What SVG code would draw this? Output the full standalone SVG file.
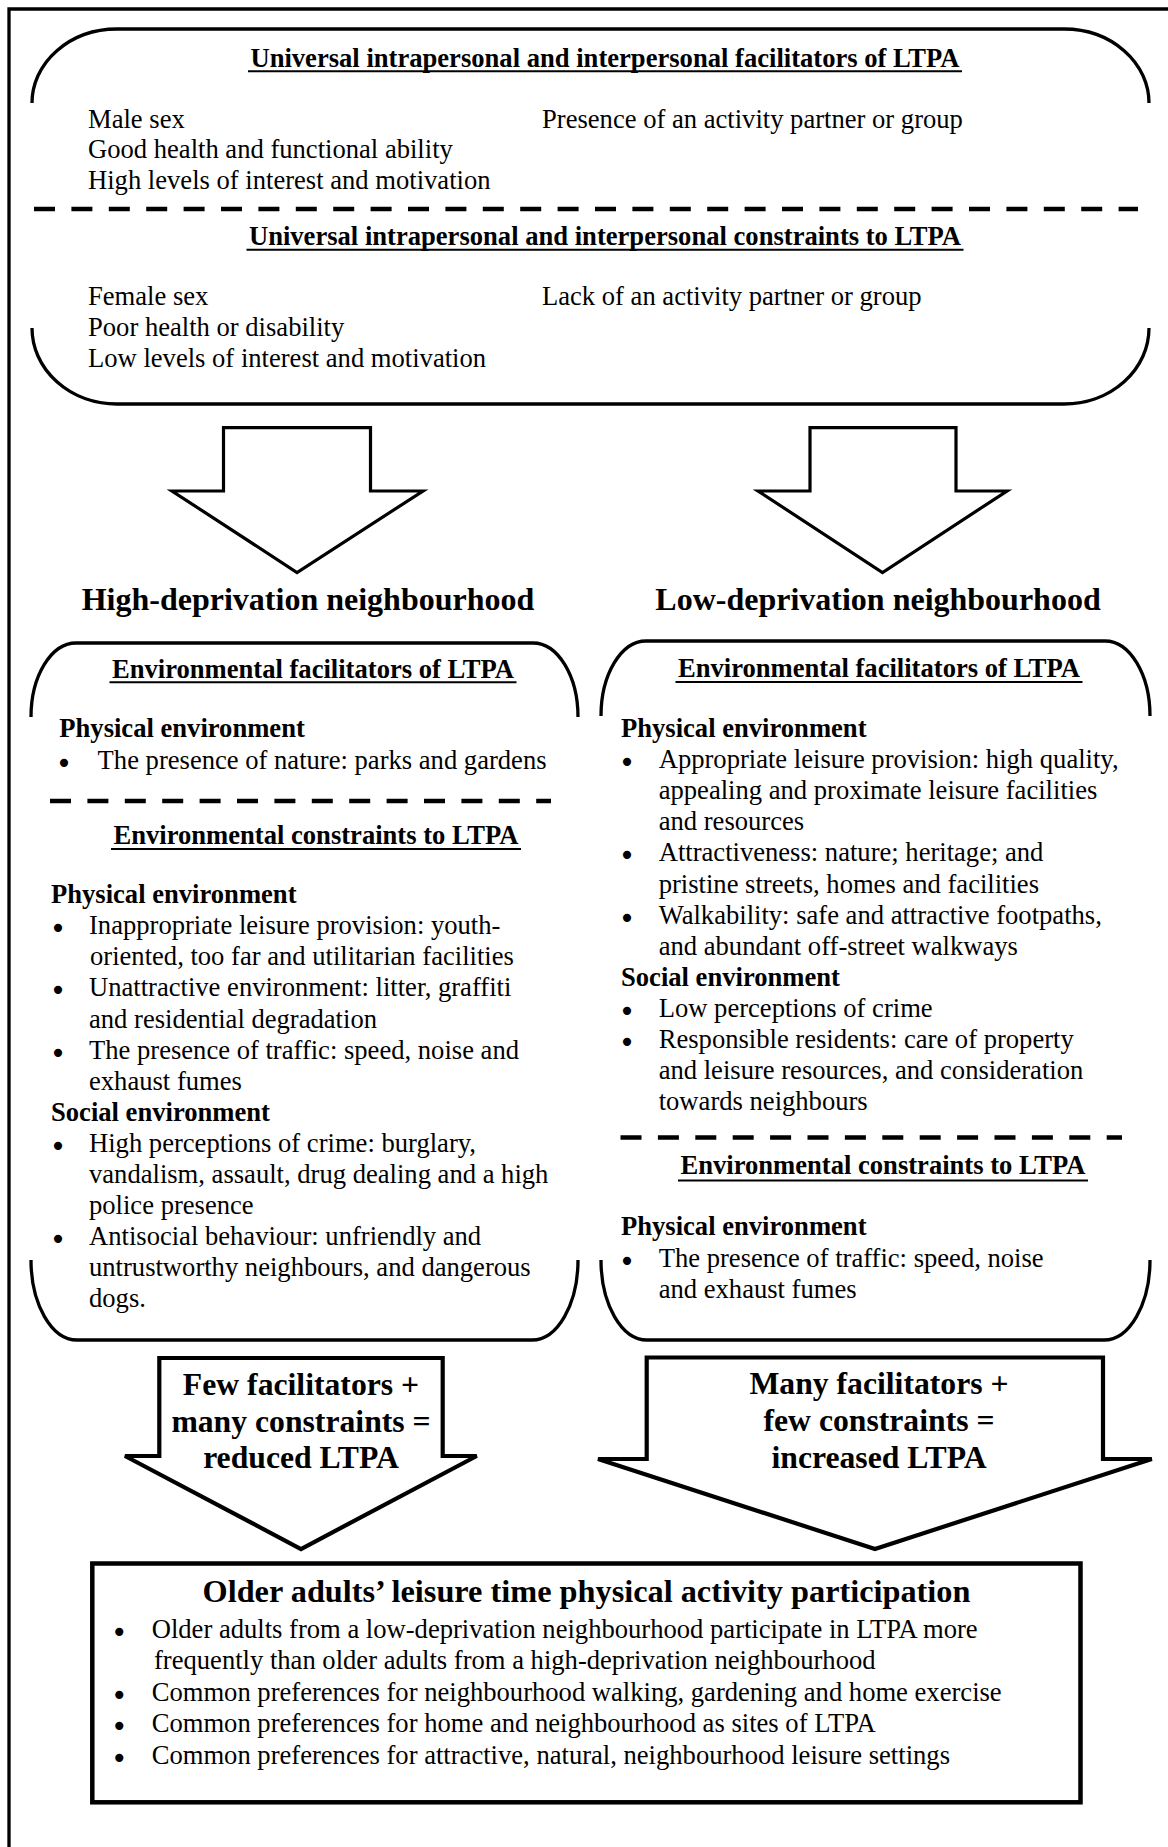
<svg xmlns="http://www.w3.org/2000/svg" width="1168" height="1847" viewBox="0 0 1168 1847">
<style>
  text { font-family: "Liberation Serif", "Times New Roman", serif; fill: #000; }
  .t { font-size: 26.6px; }
  .b { font-size: 26.6px; font-weight: bold; }
  .h { font-size: 32px; font-weight: bold; text-anchor: middle; }
  .a { font-size: 31.7px; font-weight: bold; text-anchor: middle; }
  .c { text-anchor: middle; }
  .bul { font-family: "DejaVu Sans", sans-serif; font-size: 28px; text-anchor: middle; }
  .ln { fill: none; stroke: #000; stroke-width: 3.3; }
  .ul { stroke: #000; stroke-width: 2; }
  .dash { stroke: #000; stroke-width: 4.5; stroke-dasharray: 21 16.4; }
  .arr { fill: #fff; stroke: #000; stroke-width: 3.2; stroke-linejoin: miter; }
  .arr2 { fill: #fff; stroke: #000; stroke-width: 4.2; stroke-linejoin: miter; }
</style>

<g id="frame">
  <path class="ln" d="M9,1847 V9 H1168"/>
</g>

<g id="universal-box">
  <path class="ln" d="M32,103 A85,74 0 0 1 117,29 H1064 A85,74 0 0 1 1149,103"/>
  <path class="ln" d="M32,328 A85,76 0 0 0 117,404 H1064 A85,76 0 0 0 1149,328"/>
  <text class="b c" x="605" y="66.7">Universal intrapersonal and interpersonal facilitators of LTPA</text>
  <line class="ul" x1="248" y1="71.3" x2="962" y2="71.3"/>
  <text class="t" x="88" y="127.7">Male sex</text>
  <text class="t" x="88" y="158.2">Good health and functional ability</text>
  <text class="t" x="88" y="188.5">High levels of interest and motivation</text>
  <text class="t" x="542" y="127.7">Presence of an activity partner or group</text>
  <line class="dash" x1="34" y1="209" x2="1138" y2="209"/>
  <text class="b c" x="605" y="245">Universal intrapersonal and interpersonal constraints to LTPA</text>
  <line class="ul" x1="246.5" y1="249.8" x2="963.5" y2="249.8"/>
  <text class="t" x="88" y="305">Female sex</text>
  <text class="t" x="88" y="335.8">Poor health or disability</text>
  <text class="t" x="88" y="366.6">Low levels of interest and motivation</text>
  <text class="t" x="542" y="305">Lack of an activity partner or group</text>
</g>

<g id="connectors">
  <polygon id="arrow-high-in" class="arr" points="223.5,427.7 370.5,427.7 370.5,491 423,491 297,572.5 172,491 223.5,491"/>
  <polygon id="arrow-low-in" class="arr" points="810,427.7 956,427.7 956,491 1007,491 882.5,572.5 758,491 810,491"/>
  <polygon id="arrow-high-out" class="arr2" points="159.3,1358 442.7,1358 442.7,1456 476.7,1456 301,1549 125,1456 159.3,1456"/>
  <polygon id="arrow-low-out" class="arr2" points="646.7,1357.5 1103,1357.5 1103,1459 1151.8,1459 875,1549 598,1459 646.7,1459"/>
</g>

<g id="label-high">
  <text class="h" x="308" y="610">High-deprivation neighbourhood</text>
</g>
<g id="label-low">
  <text class="h" x="878" y="610">Low-deprivation neighbourhood</text>
</g>

<g id="env-high">
  <path class="ln" d="M31,717 A45,74 0 0 1 76,643 H533 A45,74 0 0 1 578,717"/>
  <path class="ln" d="M31,1260 A46,80 0 0 0 77,1340 H532 A46,80 0 0 0 578,1260"/>
  <text class="b c" x="313" y="677.5">Environmental facilitators of LTPA</text>
  <line class="ul" x1="109.5" y1="682.3" x2="516.5" y2="682.3"/>
  <text class="b" x="59.3" y="737">Physical environment</text>
  <text class="bul" x="64" y="772.8">•</text>
  <text class="t" x="97.6" y="768.8">The presence of nature: parks and gardens</text>
  <line class="dash" x1="50" y1="801" x2="551" y2="801"/>
  <text class="b c" x="316" y="843.9">Environmental constraints to LTPA</text>
  <line class="ul" x1="111" y1="849" x2="521" y2="849"/>
  <text class="b" x="51" y="903.1">Physical environment</text>
  <text class="bul" x="58" y="938.2">•</text>
  <text class="t" x="89" y="934.2">Inappropriate leisure provision: youth-</text>
  <text class="t" x="90" y="965.3">oriented, too far and utilitarian facilities</text>
  <text class="bul" x="58" y="1000.4">•</text>
  <text class="t" x="89" y="996.4">Unattractive environment: litter, graffiti</text>
  <text class="t" x="89" y="1027.5">and residential degradation</text>
  <text class="bul" x="58" y="1062.6">•</text>
  <text class="t" x="89" y="1058.6">The presence of traffic: speed, noise and</text>
  <text class="t" x="89" y="1089.7">exhaust fumes</text>
  <text class="b" x="51" y="1120.8">Social environment</text>
  <text class="bul" x="58" y="1155.9">•</text>
  <text class="t" x="89" y="1151.9">High perceptions of crime: burglary,</text>
  <text class="t" x="89" y="1183">vandalism, assault, drug dealing and a high</text>
  <text class="t" x="89" y="1214.1">police presence</text>
  <text class="bul" x="58" y="1249.2">•</text>
  <text class="t" x="89" y="1245.2">Antisocial behaviour: unfriendly and</text>
  <text class="t" x="89" y="1276.3">untrustworthy neighbours, and dangerous</text>
  <text class="t" x="89" y="1307.4">dogs.</text>
</g>

<g id="env-low">
  <path class="ln" d="M601,716 A45,75 0 0 1 646,641 H1105 A45,75 0 0 1 1150,716"/>
  <path class="ln" d="M601,1260 A46,80 0 0 0 647,1340 H1104 A46,80 0 0 0 1150,1260"/>
  <text class="b c" x="879" y="677">Environmental facilitators of LTPA</text>
  <line class="ul" x1="675.5" y1="682" x2="1082.5" y2="682"/>
  <text class="b" x="621" y="737">Physical environment</text>
  <text class="bul" x="627" y="772.1">•</text>
  <text class="t" x="658.7" y="768.1">Appropriate leisure provision: high quality,</text>
  <text class="t" x="658.7" y="799.2">appealing and proximate leisure facilities</text>
  <text class="t" x="658.7" y="830.3">and resources</text>
  <text class="bul" x="627" y="865.4">•</text>
  <text class="t" x="658.7" y="861.4">Attractiveness: nature; heritage; and</text>
  <text class="t" x="658.7" y="892.5">pristine streets, homes and facilities</text>
  <text class="bul" x="627" y="927.6">•</text>
  <text class="t" x="658.7" y="923.6">Walkability: safe and attractive footpaths,</text>
  <text class="t" x="658.7" y="954.7">and abundant off-street walkways</text>
  <text class="b" x="621" y="985.8">Social environment</text>
  <text class="bul" x="627" y="1020.9">•</text>
  <text class="t" x="658.7" y="1016.9">Low perceptions of crime</text>
  <text class="bul" x="627" y="1052">•</text>
  <text class="t" x="658.7" y="1048">Responsible residents: care of property</text>
  <text class="t" x="658.7" y="1079.1">and leisure resources, and consideration</text>
  <text class="t" x="658.7" y="1110.2">towards neighbours</text>
  <line class="dash" x1="620.5" y1="1137.5" x2="1122" y2="1137.5"/>
  <text class="b c" x="883" y="1173.9">Environmental constraints to LTPA</text>
  <line class="ul" x1="678" y1="1180.5" x2="1088" y2="1180.5"/>
  <text class="b" x="621" y="1235.4">Physical environment</text>
  <text class="bul" x="627" y="1270.5">•</text>
  <text class="t" x="658.7" y="1266.5">The presence of traffic: speed, noise</text>
  <text class="t" x="658.7" y="1297.6">and exhaust fumes</text>
</g>

<g id="result-high">
  <text class="a" x="301" y="1395">Few facilitators +</text>
  <text class="a" x="301" y="1431.7">many constraints =</text>
  <text class="a" x="301" y="1468.3">reduced LTPA</text>
</g>
<g id="result-low">
  <text class="a" x="879" y="1394.3">Many facilitators +</text>
  <text class="a" x="879" y="1431">few constraints =</text>
  <text class="a" x="879" y="1467.7">increased LTPA</text>
</g>

<g id="outcome-box">
  <rect x="92.3" y="1563.5" width="988.2" height="238.8" fill="#fff" stroke="#000" stroke-width="4.5"/>
  <text class="h" x="586.5" y="1601.5" style="font-size:32.3px">Older adults’ leisure time physical activity participation</text>
  <text class="bul" x="119.2" y="1642.3">•</text>
  <text class="t" x="151.7" y="1638.3">Older adults from a low-deprivation neighbourhood participate in LTPA more</text>
  <text class="t" x="154" y="1669">frequently than older adults from a high-deprivation neighbourhood</text>
  <text class="bul" x="119.2" y="1704.7">•</text>
  <text class="t" x="151.7" y="1700.7">Common preferences for neighbourhood walking, gardening and home exercise</text>
  <text class="bul" x="119.2" y="1736.3">•</text>
  <text class="t" x="151.7" y="1732.3">Common preferences for home and neighbourhood as sites of LTPA</text>
  <text class="bul" x="119.2" y="1768">•</text>
  <text class="t" x="151.7" y="1764">Common preferences for attractive, natural, neighbourhood leisure settings</text>
</g>
</svg>
